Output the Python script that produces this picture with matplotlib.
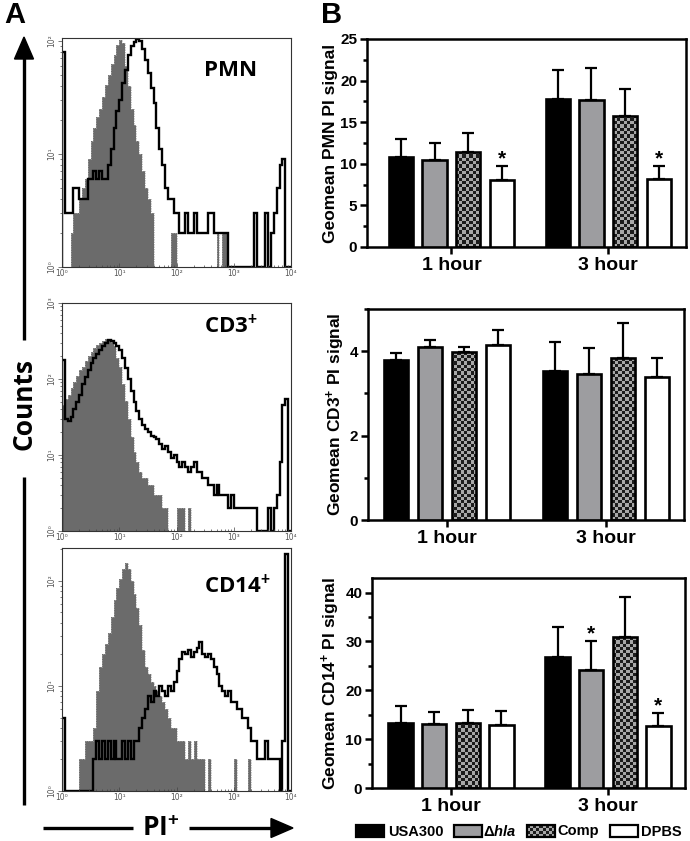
import numpy as np
import matplotlib
matplotlib.use("Agg")
import matplotlib.pyplot as plt
from matplotlib.colors import ListedColormap
from matplotlib.patches import Rectangle, Polygon
from matplotlib.ticker import MultipleLocator, NullFormatter, LogLocator

plt.rcParams["font.family"] = ["Liberation Sans", "DejaVu Sans"]
plt.rcParams["font.weight"] = "bold"
plt.rcParams["mathtext.fontset"] = "custom"
plt.rcParams["mathtext.rm"] = "Liberation Sans:bold"
plt.rcParams["mathtext.bf"] = "Liberation Sans:bold"
plt.rcParams["mathtext.it"] = "Liberation Sans:italic:bold"

# ---------------------------------------------------------------- data
# panel A: flow histograms, counts per bin (bins of 0.05 decade, 10^0..10^4)
BIN_W = 0.05
PMN_GRAY = [0, 0, 0, 2, 3, 3, 4, 5, 6, 9,
            13, 17, 21, 25, 32, 41, 50, 62, 75, 92,
            102, 95, 60, 40, 25, 18, 13, 10, 7, 5,
            4, 3, 0, 0, 0, 0, 0, 0, 2, 2,
            0, 0, 0, 0, 0, 0, 0, 0, 0, 0,
            0, 0, 0, 0, 2, 0, 2, 2, 0, 0,
            0, 0, 0, 0, 0, 0, 0, 0, 0, 0,
            0, 0, 0, 0, 0, 0, 0, 0, 0, 0]
PMN_BLACK = [80, 3, 3, 3, 5, 5, 4, 4, 4, 6,
             6, 7, 6, 7, 6, 6, 8, 11, 17, 24,
             30, 42, 55, 75, 90, 98, 104, 100, 85, 68,
             52, 38, 28, 17, 11, 8, 5, 4, 4, 3,
             3, 2, 2, 3, 2, 2, 3, 2, 2, 2,
             2, 3, 3, 2, 2, 2, 2, 2, 0, 0,
             0, 0, 0, 0, 0, 0, 0, 3, 0, 0,
             0, 3, 0, 2, 3, 5, 8, 9, 0, 0]
CD3_GRAY = [45, 55, 62, 75, 90, 110, 130, 145, 170, 200,
            230, 255, 280, 300, 320, 335, 330, 310, 275, 190,
            145, 85, 52, 30, 17, 11, 8, 6, 5, 5,
            4, 4, 3, 3, 3, 2, 2, 0, 0, 0,
            2, 2, 2, 0, 2, 0, 0, 0, 0, 0,
            0, 0, 0, 0, 0, 0, 0, 0, 0, 0,
            0, 0, 0, 0, 0, 0, 0, 0, 0, 0,
            0, 0, 0, 0, 0, 0, 0, 0, 0, 0]
CD3_BLACK = [180, 30, 28, 32, 40, 50, 62, 85, 105, 130,
             160, 190, 215, 240, 270, 300, 330, 320, 300, 270,
             240, 190, 140, 100, 70, 50, 38, 30, 25, 22,
             20, 18, 17, 16, 14, 12, 13, 11, 9, 10,
             8, 7, 8, 7, 6, 7, 8, 6, 6, 5,
             5, 4, 4, 3, 4, 3, 3, 3, 2, 3,
             2, 2, 2, 2, 2, 2, 2, 2, 0, 0,
             0, 0, 2, 0, 2, 3, 8, 45, 55, 0]
CD14_GRAY = [0, 0, 0, 0, 0, 0, 2, 2, 3, 3,
             3, 4, 9, 15, 20, 25, 32, 45, 65, 85,
             105, 130, 147, 130, 100, 75, 55, 38, 22, 15,
             13, 11, 10, 9, 8, 7, 6, 5, 4, 4,
             3, 3, 3, 2, 3, 2, 3, 2, 2, 2,
             0, 2, 0, 0, 0, 0, 0, 0, 0, 0,
             2, 0, 0, 0, 0, 2, 0, 0, 0, 0,
             0, 0, 0, 0, 0, 0, 0, 0, 0, 0]
CD14_BLACK = [5, 0, 0, 0, 0, 0, 0, 0, 0, 0,
              0, 2, 3, 2, 3, 2, 3, 2, 3, 2,
              2, 3, 2, 3, 2, 3, 3, 4, 5, 6,
              8, 7, 9, 8, 10, 9, 8, 10, 9, 11,
              14, 18, 21, 20, 22, 19, 21, 23, 26, 20,
              19, 20, 18, 15, 13, 10, 9, 8, 9, 7,
              7, 6, 6, 5, 5, 4, 3, 3, 2, 2,
              2, 3, 2, 2, 2, 2, 0, 3, 180, 0]
HIST_NAMES = ["PMN", "CD3$^{+}$", "CD14$^{+}$"]
HIST_YMAX = [106, 1000, 205]
DECADE_LABELS = ["10\u2070", "10\u00b9", "10\u00b2", "10\u00b3", "10\u2074"]

# panel B: geomean PI signal, mean and upper error per group
GROUPS = ["1 hour", "3 hour"]
STRAINS = ["USA300", "\u0394$\\mathit{hla}$", "Comp", "DPBS"]
PMN_MEAN = [[10.8, 10.5, 11.4, 8.1], [17.8, 17.7, 15.8, 8.2]]
PMN_ERR = [[2.2, 2.0, 2.3, 1.6], [3.5, 3.8, 3.2, 1.5]]
CD3_MEAN = [[3.78, 4.11, 3.97, 4.14], [3.54, 3.47, 3.84, 3.39]]
CD3_ERR = [[0.18, 0.16, 0.14, 0.37], [0.68, 0.61, 0.82, 0.45]]
CD14_MEAN = [[13.4, 13.1, 13.4, 12.8], [26.8, 24.2, 30.9, 12.7]]
CD14_ERR = [[3.3, 2.5, 2.6, 3.0], [6.2, 5.85, 8.3, 2.7]]
PMN_STARS = [(0, 3), (1, 3)]
CD3_STARS = []
CD14_STARS = [(1, 1), (1, 3)]
BAR_YLABELS = ["Geomean PMN PI signal", "Geomean CD3$^{+}$ PI signal",
               "Geomean CD14$^{+}$ PI signal"]

# ---------------------------------------------------------------- style
W, H = 690, 841
GRAY_FILL = "#6b6b6b"
BAR_GRAY = "#9d9da0"
CHECK_CMAP = ListedColormap(["#1c1c1c", "#a8a8a8"])
FACE = ["black", BAR_GRAY, "none", "white"]
SANS_A = ["Open Sans", "DejaVu Sans"]

fig = plt.figure(figsize=(W / 100, H / 100), dpi=100)


def px_axes(l, t, r, b, **kw):
    return fig.add_axes([l / W, 1 - b / H, (r - l) / W, (b - t) / H], **kw)


def checker(nx, ny):
    return np.indices((ny, nx)).sum(axis=0) % 2


def draw_hist(ax, gray, black, ymax, name, name_y):
    edges = 10 ** (np.arange(len(gray) + 1) * BIN_W)
    g = np.maximum(np.asarray(gray, float), 1)
    b = np.maximum(np.asarray(black, float), 1)
    ax.stairs(g, edges, baseline=1, fill=True, color=GRAY_FILL, lw=0)
    ax.stairs(g, edges, baseline=1, color="#a9a9a9", lw=0.5, ls=(0, (2, 1.5)))
    ax.stairs(b, edges, baseline=1, color="black", lw=1.7)
    ax.set_xscale("log")
    ax.set_yscale("log")
    ax.set_xlim(1, 1e4)
    ax.set_ylim(1, ymax)
    ndec = int(np.floor(np.log10(ymax) + 1e-9))
    ax.set_xticks([10 ** i for i in range(5)], DECADE_LABELS, fontsize=5.5,
                  color="#555555", fontweight="normal", family="DejaVu Sans")
    ax.set_yticks([10 ** i for i in range(ndec + 1)], DECADE_LABELS[:ndec + 1],
                  fontsize=5.5, color="#555555", fontweight="normal",
                  family="DejaVu Sans", rotation=90, va="center")
    ax.xaxis.set_minor_locator(LogLocator(subs=np.arange(2, 10)))
    ax.yaxis.set_minor_locator(LogLocator(subs=np.arange(2, 10)))
    ax.xaxis.set_minor_formatter(NullFormatter())
    ax.yaxis.set_minor_formatter(NullFormatter())
    ax.tick_params(axis="x", which="both", direction="in", pad=1.5, width=0.5, color="#444")
    ax.tick_params(axis="y", which="both", direction="out", pad=1, width=0.5, color="#444")
    ax.tick_params(which="major", length=3)
    ax.tick_params(which="minor", length=1.6)
    for s in ax.spines.values():
        s.set_color("#333333")
        s.set_linewidth(0.8)
    ax.text(0.62, name_y, name, transform=ax.transAxes, fontsize=16,
            fontweight="bold", family=SANS_A, ha="left", va="center")


def draw_bars(ax, means, errs, stars, ylabel, ymax, major, minor, xlim, g2):
    centers = [0.0, g2]
    ax.set_xlim(*xlim)
    ax.set_ylim(0, ymax)
    for gi, c in enumerate(centers):
        xs = [c + i - 1.5 for i in range(4)]
        bars = ax.bar(xs, means[gi], width=0.72, color=FACE, edgecolor="black",
                      linewidth=1.9, zorder=3)
        ax.errorbar(xs, means[gi], yerr=[np.zeros(4), errs[gi]], fmt="none",
                    ecolor="black", elinewidth=1.6, capsize=4.5, capthick=1.6,
                    zorder=4)
        comp = bars[2]
        bb = ax.get_window_extent()
        nx = int(round(bb.width / 3.3))
        ny = int(round(bb.height / 3.3))
        im = ax.imshow(checker(nx, ny), cmap=CHECK_CMAP, extent=(xlim[0], xlim[1], 0, ymax),
                       aspect="auto", interpolation="nearest", zorder=2)
        im.set_clip_path(comp)
        for (g, i) in stars:
            if g == gi:
                ax.annotate("*", xy=(xs[i], means[g][i] + errs[g][i]), xytext=(0, 5),
                            textcoords="offset points", ha="center", va="center",
                            fontsize=15, fontweight="bold")
    ax.set_xlim(*xlim)
    ax.set_ylim(0, ymax)
    ax.set_xticks(centers, GROUPS, fontsize=14, fontweight="bold")
    ax.yaxis.set_major_locator(MultipleLocator(major))
    ax.yaxis.set_minor_locator(MultipleLocator(minor))
    ax.tick_params(axis="y", which="both", direction="out", width=1.8, labelsize=11, pad=2)
    ax.tick_params(axis="y", which="major", length=5)
    ax.tick_params(axis="y", which="minor", length=3)
    ax.tick_params(axis="x", direction="out", length=5, width=1.8, pad=2)
    for lab in ax.get_yticklabels():
        lab.set_fontweight("bold")
    for s in ax.spines.values():
        s.set_linewidth(1.8)
    ax.set_ylabel(ylabel, fontsize=12.5, fontweight="bold", labelpad=2)


# ---------------------------------------------------------------- panel A
hist_boxes = [(62, 38, 291, 267), (62, 303, 291, 531), (62, 548, 291, 791)]
hist_data = [(PMN_GRAY, PMN_BLACK), (CD3_GRAY, CD3_BLACK), (CD14_GRAY, CD14_BLACK)]
name_ys = [0.856, 0.895, 0.84]
for box, (g, b), ymax, name, ny in zip(hist_boxes, hist_data, HIST_YMAX, HIST_NAMES, name_ys):
    ax = px_axes(*box)
    draw_hist(ax, g, b, ymax, name, ny)

# ---------------------------------------------------------------- panel B
bar_boxes = [(367, 39, 686, 247), (368, 309, 684, 520), (372, 578, 685, 788)]
bar_specs = [
    (PMN_MEAN, PMN_ERR, PMN_STARS, 25, 5, 2.5, (-2.5, 6.95), 4.65),
    (CD3_MEAN, CD3_ERR, CD3_STARS, 5, 2, 1, (-2.32, 6.97), 4.68),
    (CD14_MEAN, CD14_ERR, CD14_STARS, 43, 10, 5, (-2.35, 6.96), 4.67),
]
for box, spec, ylab in zip(bar_boxes, bar_specs, BAR_YLABELS):
    ax = px_axes(*box)
    m, e, st, ymax, maj, mnr, xl, g2 = spec
    draw_bars(ax, m, e, st, ylab, ymax, maj, mnr, xl, g2)

# ---------------------------------------------------------------- overlay
ov = px_axes(0, 0, W, H, zorder=5)
ov.set_xlim(0, W)
ov.set_ylim(H, 0)
ov.axis("off")
ov.patch.set_alpha(0)

ov.text(4, 1, "A", fontsize=21, fontweight="bold", ha="left", va="top")
ov.text(321, 1, "B", fontsize=21, fontweight="bold", ha="left", va="top")

# Counts arrow
ov.plot([24, 24], [56, 340], color="black", lw=2.4, solid_capstyle="butt")
ov.plot([24, 24], [477, 805], color="black", lw=2.4, solid_capstyle="butt")
ov.add_patch(Polygon([(24, 37), (14.5, 59), (33.5, 59)], closed=True, color="black"))
ov.text(24, 404, "Counts", rotation=90, fontsize=19, fontweight="bold", family=SANS_A,
        ha="center", va="center")

# PI arrow
ov.plot([43, 133], [828, 828], color="black", lw=2.4, solid_capstyle="butt")
ov.plot([189, 274], [828, 828], color="black", lw=2.4, solid_capstyle="butt")
ov.add_patch(Polygon([(293, 828), (271, 818.5), (271, 837.5)], closed=True, color="black"))
ov.text(161, 829, "PI$^{+}$", fontsize=19, fontweight="bold", family=SANS_A,
        ha="center", va="center")

# legend
leg_x = [356, 454, 527, 610]
txt_x = [388, 483, 557, 641]
for i, name in enumerate(STRAINS):
    x0 = leg_x[i]
    if i == 2:
        ov.imshow(checker(9, 4), cmap=CHECK_CMAP, extent=(x0, x0 + 28, 837, 825),
                  interpolation="nearest", aspect="auto", zorder=5)
    ov.add_patch(Rectangle((x0, 825), 28, 12, facecolor=FACE[i], edgecolor="black",
                           lw=1.6, zorder=6))
    ov.text(txt_x[i], 831.5, name, fontsize=10.5, fontweight="bold", ha="left", va="center")
ov.set_xlim(0, W)
ov.set_ylim(H, 0)

fig.savefig("out.png", dpi=100)
